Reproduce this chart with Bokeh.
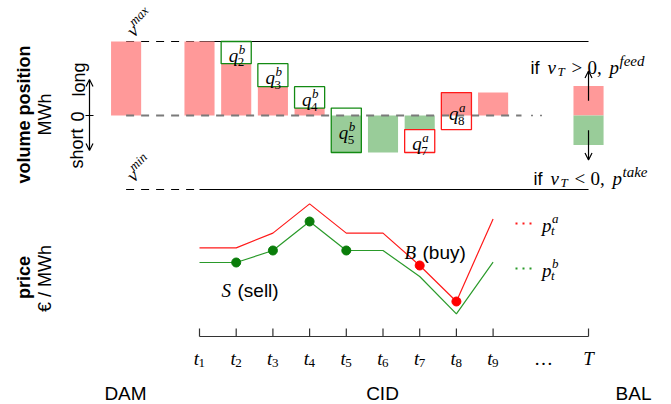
import math
from bokeh.plotting import figure
from bokeh.models import Range1d, Arrow, OpenHead
from bokeh.core.properties import value
from bokeh.embed import file_html
from bokeh.resources import INLINE

# ---------------- data ----------------
cid_times = [1, 2, 3, 4, 5, 6, 7, 8, 9]
tick_labels = ["1", "2", "3", "4", "5", "6", "7", "8", "9"]
dam_time = -1.0
bal_time = 11.6
v_max = 1.0
v_min = -1.0
dam_position = 1.0
cid_position = [1.0, 0.70, 0.39, 0.10, -0.50, -0.50, -0.19, 0.31, 0.31]
bal_long = 0.40
bal_short = -0.40
ask_price = [44.3, 44.3, 51.7, 66.3, 51.7, 51.7, 35.5, 17.5, 58.8]
bid_price = [37.0, 37.0, 43.0, 57.5, 43.0, 43.0, 30.0, 11.3, 37.2]
sell_times = [2, 3, 4, 5]
buy_times = [7, 8]

# ---------------- styles ----------------
PINK = "#ff9999"
LGREEN = "#99cc99"
BOX_GREEN = "#138a13"
BOX_RED = "#ff1a1a"
LINE_RED = "#ff1a1a"
LINE_GREEN = "#2a9a2a"
DOT_GREEN = "#0a7d0a"
DOT_RED = "#ff0000"
SANS = "Liberation Sans"
SERIF = "Liberation Serif"
BW = 0.82

# layout: page-pixel <-> data
W, H = 671, 404
PX_T = 36.7          # px per time step
T1_PX = 199.0        # page x of t1
V0_PX, PX_V = 115.0, 74.0    # volume zero line, px per unit
P0_PX, PX_P = 336.0, 2.0     # price axis, px per unit


def X(px):
    return 1 + (px - T1_PX) / PX_T


def V(py):
    return (V0_PX - py) / PX_V


def P(py):
    return (P0_PX - py) / PX_P


def xpx(t):
    return T1_PX + (t - 1) * PX_T


def vpx(v):
    return V0_PX - v * PX_V


p = figure(width=W, height=H,
           x_range=Range1d(X(0), X(W)), y_range=Range1d(V(H), V(0)),
           x_axis_type=None, y_axis_type=None,
           output_backend="svg", toolbar_location=None,
           min_border=0, outline_line_color=None,
           background_fill_color="white", border_fill_color="white")
p.extra_y_ranges = {"price": Range1d(P(H), P(0))}


def txt(px, py, s, size=18, font=SERIF, style="italic", align="left",
        baseline="alphabetic", color="black", angle=0.0):
    p.text(x=[X(px)], y=[V(py)], text=[s], text_font=value(font),
           text_font_style=style, text_font_size=f"{size}px",
           text_align=align, text_baseline=baseline, text_color=color,
           angle=angle)


def scripted(ax, ay, base, sup=None, sub=None, size=19, ssize=13,
             rise=6, drop=5, sup_style="italic", sub_style="normal"):
    txt(ax, ay, base, size=size, align="right")
    if sup:
        txt(ax + 0.5, ay - rise, sup, size=ssize, style=sup_style)
    if sub:
        txt(ax - 0.5, ay + drop, sub, size=ssize, style=sub_style)


# ---------- volume panel ----------
for v in (v_max, v_min):
    p.line([dam_time, cid_times[0]], [v, v], line_color="black",
           line_width=1.2, line_dash="8 7")
    p.line([cid_times[0], bal_time], [v, v], line_color="black", line_width=1.2)

p.vbar(x=[dam_time], bottom=0, top=[dam_position], width=BW,
       fill_color=PINK, line_color=None)
p.vbar(x=cid_times, bottom=0, top=cid_position, width=BW,
       fill_color=[PINK if v > 0 else LGREEN for v in cid_position],
       line_color=None)
p.vbar(x=[bal_time, bal_time], bottom=0, top=[bal_long, bal_short], width=BW,
       fill_color=[PINK, LGREEN], line_color=None)

p.line([dam_time, X(521)], [0, 0], line_color="#7a7a7a", line_width=2,
       line_dash="8 7")
p.line([X(531), X(549)], [0, 0], line_color="black", line_width=1.5,
       line_dash="1 8")

for i in range(1, len(cid_times)):
    prev, cur = cid_position[i - 1], cid_position[i]
    if cur == prev:
        continue
    t = cid_times[i]
    sell = cur < prev
    p.quad(left=[t - BW / 2], right=[t + BW / 2],
           bottom=[min(prev, cur)], top=[max(prev, cur)],
           fill_color=None, line_color=BOX_GREEN if sell else BOX_RED,
           line_width=1.3)
    cx, cy = xpx(t), vpx((prev + cur) / 2)
    scripted(cx + 2, cy + 2.5, "q", sup="b" if sell else "a",
             sub=tick_labels[i], rise=6, drop=7)

# BAL arrows
p.add_layout(Arrow(end=OpenHead(size=7, line_width=1.2), x_start=bal_time,
                   y_start=bal_long / 2, x_end=bal_time, y_end=bal_long + 0.2,
                   line_width=1.2))
p.add_layout(Arrow(end=OpenHead(size=7, line_width=1.2), x_start=bal_time,
                   y_start=bal_short / 2, x_end=bal_time, y_end=bal_short - 0.2,
                   line_width=1.2))

# v^max / v^min rotated labels
ang = math.pi / 4
u = (math.cos(ang), -math.sin(ang))
up = (-math.sin(ang), -math.cos(ang))
for (axp, ayp, word) in ((129, 33, "max"), (129, 178, "min")):
    txt(axp, ayp, "v", size=19, angle=ang)
    sx = axp + 8 * u[0] + 6 * up[0]
    sy = ayp + 8 * u[1] + 6 * up[1]
    txt(sx, sy, word, size=13, angle=ang)

# left axis description
VERT = math.pi / 2
txt(23, 114, "volume position", size=18, font=SANS, style="bold",
    align="center", baseline="middle", angle=VERT)
txt(44, 114, "MWh", size=18, font=SANS, style="normal",
    align="center", baseline="middle", angle=VERT)
txt(78, 79, "long", size=18, font=SANS, style="normal",
    align="center", baseline="middle", angle=VERT)
txt(77, 116, "0", size=18, font=SANS, style="normal",
    align="center", baseline="middle", angle=VERT)
txt(76, 148, "short", size=18, font=SANS, style="normal",
    align="center", baseline="middle", angle=VERT)
p.add_layout(Arrow(start=OpenHead(size=7, line_width=1.2),
                   end=OpenHead(size=7, line_width=1.2),
                   x_start=X(89), y_start=V(150), x_end=X(89), y_end=V(79),
                   line_width=1.2))
p.line([X(85), X(93)], [0, 0], line_color="black", line_width=1)

# feed / take annotations
for (yb, x0, sign, word) in ((67, 530, ">", "feed"), (178, 533, "<", "take")):
    txt(x0, yb, "if", size=18, font=SANS, style="normal")
    txt(x0 + 17, yb, "v", size=19)
    txt(x0 + 27, yb + 4, "T", size=13)
    txt(x0 + 41, yb, sign, size=19, style="normal")
    txt(x0 + 57, yb, "0,", size=19, style="normal")
    txt(x0 + 79, yb, "p", size=19)
    txt(x0 + 89, yb - 7, word, size=15)

# ---------- price panel ----------
p.line([cid_times[0], bal_time], [0, 0], y_range_name="price",
       line_color="#333333", line_width=1.2)
ticks = cid_times + [bal_time]
p.segment(x0=ticks, y0=[0] * len(ticks), x1=ticks, y1=[4] * len(ticks),
          y_range_name="price", line_color="#333333", line_width=1.2)

p.line(cid_times, ask_price, y_range_name="price", line_color=LINE_RED,
       line_width=1.2)
p.line(cid_times, bid_price, y_range_name="price", line_color=LINE_GREEN,
       line_width=1.2)
p.scatter(sell_times, [bid_price[t - 1] for t in sell_times], size=9,
          y_range_name="price", fill_color=DOT_GREEN, line_color=DOT_GREEN)
p.scatter(buy_times, [ask_price[t - 1] for t in buy_times], size=9,
          y_range_name="price", fill_color=DOT_RED, line_color=DOT_RED)

for t, lab in zip(cid_times, tick_labels):
    scripted(xpx(t) - 0.5, 358, "t", sub=lab, drop=4)
txt(543, 358, "…", size=19, style="normal", align="center")
txt(xpx(bal_time), 358, "T", size=19, align="center")

txt(221, 290, "S", size=19)
txt(237, 290, "(sell)", size=19, font=SANS, style="normal")
txt(404, 252, "B", size=19)
txt(422, 252, "(buy)", size=19, font=SANS, style="normal")

# legend
for (ly, col, sup) in ((223, LINE_RED, "a"), (268, LINE_GREEN, "b")):
    p.line([X(515), X(531)], [V(ly), V(ly)], line_color=col, line_width=2,
           line_dash="2 5")
    scripted(551, ly + 2, "p", sup=sup, sub="t", rise=7, drop=5,
             sub_style="italic")

txt(23, 277, "price", size=18, font=SANS, style="bold",
    align="center", baseline="middle", angle=VERT)
txt(44, 278, "€ / MWh", size=18, font=SANS, style="normal",
    align="center", baseline="middle", angle=VERT)

# market labels
for cxp, lab in ((125, "DAM"), (382, "CID"), (633, "BAL")):
    txt(cxp, 393, lab, size=19, font=SANS, style="normal", align="center")

open("out.html", "w").write(file_html(p, INLINE))
